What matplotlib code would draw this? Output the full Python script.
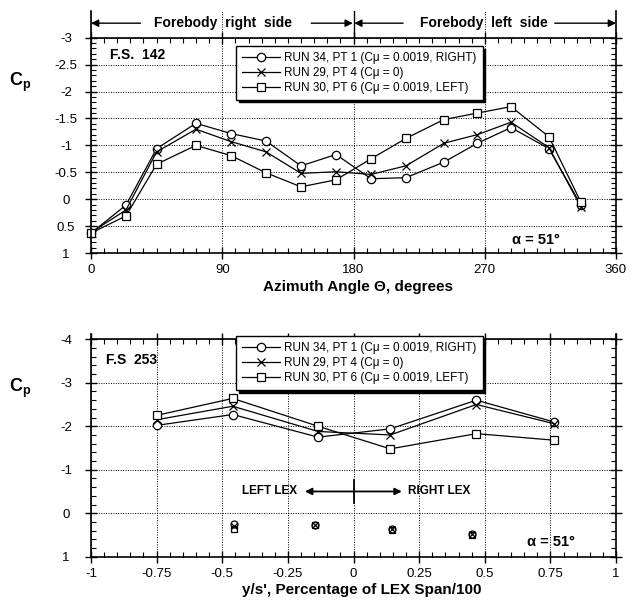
import matplotlib
matplotlib.use("Agg")
import matplotlib.pyplot as plt
from matplotlib.ticker import MultipleLocator, FixedLocator, FuncFormatter
from matplotlib.lines import Line2D

plt.rcParams['font.family'] = ['Liberation Sans', 'DejaVu Sans']
plt.rcParams['mathtext.fontset'] = 'custom'
plt.rcParams['mathtext.rm'] = 'Liberation Sans:bold'
plt.rcParams['mathtext.it'] = 'Liberation Sans:bold'
plt.rcParams['mathtext.bf'] = 'Liberation Sans:bold'

# F.S. 142 forebody, azimuth angle (deg)
theta = [0, 24, 45, 72, 96, 120, 144, 168, 192, 216, 242, 265, 288, 314, 336]
cp142_run34 = [0.63, 0.11, -0.94, -1.41, -1.22, -1.08, -0.62, -0.83, -0.38, -0.40, -0.69, -1.04, -1.33, -0.94, 0.11]
cp142_run29 = [0.62, 0.20, -0.88, -1.30, -1.07, -0.88, -0.48, -0.51, -0.46, -0.62, -1.04, -1.20, -1.43, -0.96, 0.15]
cp142_run30 = [0.63, 0.31, -0.65, -1.00, -0.81, -0.49, -0.23, -0.36, -0.75, -1.13, -1.48, -1.60, -1.72, -1.16, 0.06]

# F.S. 253 LEX, upper surface
span_up = [-0.75, -0.46, -0.135, 0.14, 0.468, 0.763]
cp253_run34 = [-2.02, -2.27, -1.75, -1.94, -2.60, -2.10]
cp253_run29 = [-2.15, -2.46, -1.88, -1.80, -2.50, -2.06]
cp253_run30 = [-2.25, -2.64, -2.00, -1.48, -1.83, -1.68]
# F.S. 253 LEX, lower surface
span_lo = [-0.455, -0.147, 0.146, 0.45]
cp253_lo_run34 = [0.25, 0.27, 0.36, 0.47]
cp253_lo_run29 = [0.30, 0.27, 0.37, 0.48]
cp253_lo_run30 = [0.37, 0.28, 0.38, 0.49]

labels = ['RUN 34, PT 1 (C\u03bc = 0.0019, RIGHT)',
          'RUN 29, PT 4 (C\u03bc = 0)',
          'RUN 30, PT 6 (C\u03bc = 0.0019, LEFT)']

mk = dict(color='k', lw=0.9, ms=6, mfc='white', mew=0.9)

fig = plt.figure(figsize=(6.35, 6), dpi=100)
ax1 = fig.add_axes([0.1433, 0.5783, 0.8268, 0.4037])
ax2 = fig.add_axes([0.1433, 0.0722, 0.8268, 0.371])


def style(ax, top_val):
    ax.spines['top'].set_position(('data', top_val))
    for s in ax.spines.values():
        s.set_linewidth(1.2)
    ax.tick_params(which='major', direction='inout', length=8, width=1,
                   labelsize=9.5, top=True, right=True, labeltop=False)
    ax.tick_params(which='minor', direction='in', length=3.5, width=0.8,
                   top=True, right=True)
    ax.tick_params(axis='y', pad=14)
    ax.tick_params(axis='x', pad=4)
    ax.grid(True, which='major', linestyle=(0, (1, 1.5)), color='k', linewidth=0.7)
    ax.set_axisbelow(True)
    fmt = FuncFormatter(lambda v, p: '%g' % v)
    ax.xaxis.set_major_formatter(fmt)
    ax.yaxis.set_major_formatter(fmt)
    for lab in ax.get_yticklabels():
        lab.set_horizontalalignment('center')


# ---- top: F.S. 142
ax1.plot(theta, cp142_run34, marker='o', clip_on=False, **mk)
ax1.plot(theta, cp142_run29, marker='x', clip_on=False, **mk)
ax1.plot(theta, cp142_run30, marker='s', clip_on=False, **mk)
ax1.set_xlim(0, 360)
ax1.set_ylim(1, -3.5)
ax1.xaxis.set_major_locator(FixedLocator([0, 90, 180, 270, 360]))
ax1.xaxis.set_minor_locator(MultipleLocator(9))
ax1.yaxis.set_major_locator(FixedLocator([-3, -2.5, -2, -1.5, -1, -0.5, 0, 0.5, 1]))
ax1.yaxis.set_minor_locator(FixedLocator([v / 10 for v in range(-30, 11)]))
style(ax1, -3)

hy = -3.27
arr = dict(arrowstyle='-|>', color='k', lw=1, shrinkA=0, shrinkB=0, mutation_scale=11)
ax1.annotate('', xy=(0, hy), xytext=(34, hy), arrowprops=arr, annotation_clip=False)
ax1.annotate('', xy=(179.5, hy), xytext=(151, hy), arrowprops=arr, annotation_clip=False)
ax1.annotate('', xy=(180.5, hy), xytext=(214, hy), arrowprops=arr, annotation_clip=False)
ax1.annotate('', xy=(360, hy), xytext=(318, hy), arrowprops=arr, annotation_clip=False)
ax1.text(90.5, hy, 'Forebody  right  side', ha='center', va='center', fontsize=10, fontweight='bold')
ax1.text(269.5, hy, 'Forebody  left  side', ha='center', va='center', fontsize=10, fontweight='bold')
ax1.plot([180, 180], [-3.5, -3], color='k', lw=1)
ax1.text(13, -2.68, 'F.S.  142', ha='left', va='center', fontsize=10, fontweight='bold')
ax1.text(289, 0.76, '\u03b1 = 51\u00b0', ha='left', va='center', fontsize=10.5, fontweight='bold')

handles = [Line2D([], [], marker='o', **mk), Line2D([], [], marker='x', **mk),
           Line2D([], [], marker='s', **mk)]
leg_kw = dict(loc='upper left', borderaxespad=0, fontsize=8.5, frameon=True, fancybox=False,
              edgecolor='k', framealpha=1, shadow={'color': 'k', 'alpha': 1},
              handlelength=3.2, handletextpad=0.4, borderpad=0.5, labelspacing=0.25)
leg1 = ax1.legend(handles, labels, bbox_to_anchor=(0.276, 0.855), **leg_kw)
leg1.get_frame().set_linewidth(1)

# ---- bottom: F.S. 253
ax2.plot(span_up, cp253_run34, marker='o', **mk)
ax2.plot(span_up, cp253_run29, marker='x', **mk)
ax2.plot(span_up, cp253_run30, marker='s', **mk)
ax2.plot(span_lo, cp253_lo_run34, marker='o', ls='none', color='k', ms=5, mfc='none', mew=0.9)
ax2.plot(span_lo, cp253_lo_run29, marker='x', ls='none', color='k', ms=5, mew=0.9)
ax2.plot(span_lo, cp253_lo_run30, marker='s', ls='none', color='k', ms=5, mfc='none', mew=0.9)
ax2.set_xlim(-1, 1)
ax2.set_ylim(1, -4.12)
ax2.xaxis.set_major_locator(FixedLocator([-1, -0.75, -0.5, -0.25, 0, 0.25, 0.5, 0.75, 1]))
ax2.xaxis.set_minor_locator(FixedLocator([v / 20 for v in range(-20, 21)]))
ax2.yaxis.set_major_locator(FixedLocator([-4, -3, -2, -1, 0, 1]))
ax2.yaxis.set_minor_locator(FixedLocator([v / 5 for v in range(-20, 6)]))
style(ax2, -4)

ax2.text(-0.943, -3.52, 'F.S  253', ha='left', va='center', fontsize=10, fontweight='bold')
ax2.text(0.66, 0.66, '\u03b1 = 51\u00b0', ha='left', va='center', fontsize=10.5, fontweight='bold')
ax2.text(-0.215, -0.5, 'LEFT LEX', ha='right', va='center', fontsize=8.5, fontweight='bold')
ax2.text(0.208, -0.52, 'RIGHT LEX', ha='left', va='center', fontsize=8.5, fontweight='bold')
ax2.annotate('', xy=(-0.185, -0.5), xytext=(0.184, -0.5),
             arrowprops=dict(arrowstyle='<|-|>', color='k', lw=1.3, shrinkA=0, shrinkB=0,
                             mutation_scale=10))
ax2.plot([0, 0], [-0.77, -0.24], color='k', lw=1.3)
leg2 = ax2.legend(handles, labels, bbox_to_anchor=(0.276, 0.991), **leg_kw)
leg2.get_frame().set_linewidth(1)

# axis titles
cp_label = r'$\mathbf{C}_\mathbf{p}$'
fig.text(20 / 635, 1 - 82 / 600, cp_label, ha='center', va='center', fontsize=13)
fig.text(20 / 635, 1 - 388 / 600, cp_label, ha='center', va='center', fontsize=13)
fig.text(358 / 635, 1 - 287 / 600, 'Azimuth Angle \u0398, degrees', ha='center', va='center',
         fontsize=11, fontweight='bold')
fig.text(362 / 635, 1 - 590 / 600, "y/s', Percentage of LEX Span/100", ha='center', va='center',
         fontsize=11, fontweight='bold')

fig.savefig('out.png', dpi=100)
